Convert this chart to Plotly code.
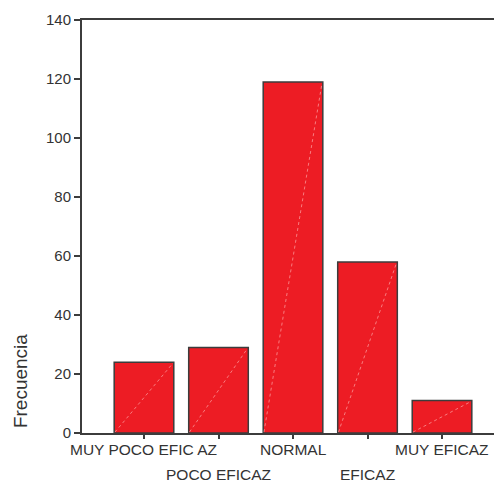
import plotly.graph_objects as go

categories = ["MUY POCO EFIC AZ", "POCO EFICAZ", "NORMAL", "EFICAZ", "MUY EFICAZ"]
values = [24, 29, 119, 58, 11]
label_row = [0, 1, 0, 1, 0]
y_ticks = [0, 20, 40, 60, 80, 100, 120, 140]

FONT = "Arial, Liberation Sans, sans-serif"
TXT = "#333333"
xs = list(range(len(categories)))
half = 0.4

fig = go.Figure()
fig.add_trace(go.Bar(
    x=xs, y=values, width=2 * half,
    marker=dict(color="#ED1C24", line=dict(color="#3c3c3c", width=1.5)),
    hoverinfo="skip",
))
# faint diagonal streak within each bar (rendering artifact in original)
dx, dy = [], []
for i, v in zip(xs, values):
    dx += [i - half + 0.01, i + half - 0.01, None]
    dy += [0.3, v - 0.3, None]
fig.add_trace(go.Scatter(
    x=dx, y=dy, mode="lines",
    line=dict(color="rgba(255,190,190,0.75)", width=0.8, dash="dot"),
    hoverinfo="skip",
))

for i, (c, r) in enumerate(zip(categories, label_row)):
    fig.add_annotation(
        x=i, xref="x", y=0, yref="paper",
        text=c, showarrow=False,
        xanchor="center", yanchor="middle",
        yshift=-16 if r == 0 else -41,
        font=dict(family=FONT, size=15.5, color=TXT),
    )

fig.add_annotation(
    x=0, xref="paper", xshift=-62, y=17.6, yref="y",
    text="Frecuencia", textangle=-90, showarrow=False,
    xanchor="center", yanchor="middle",
    font=dict(family=FONT, size=19, color=TXT),
)

fig.update_layout(
    width=494, height=475,
    margin=dict(l=74, r=0, t=12, b=50),
    paper_bgcolor="white", plot_bgcolor="white",
    showlegend=False,
    font=dict(family=FONT, color=TXT),
)
fig.update_xaxes(
    range=[-0.832, 4.805], tickvals=xs, showticklabels=False,
    ticks="outside", ticklen=4, tickwidth=1.5, tickcolor="#3c3c3c",
    showline=True, linecolor="#3c3c3c", linewidth=2, mirror=True,
    showgrid=False, zeroline=False, fixedrange=True,
)
fig.update_yaxes(
    range=[0, 140], tickvals=y_ticks, ticktext=[str(t) for t in y_ticks],
    ticks="outside", ticklen=6, tickwidth=1.5, tickcolor="#3c3c3c",
    showline=True, linecolor="#3c3c3c", linewidth=2, mirror=False,
    showgrid=False, zeroline=False,
    tickfont=dict(family=FONT, size=15, color=TXT),
)
fig.write_html("out.html")
